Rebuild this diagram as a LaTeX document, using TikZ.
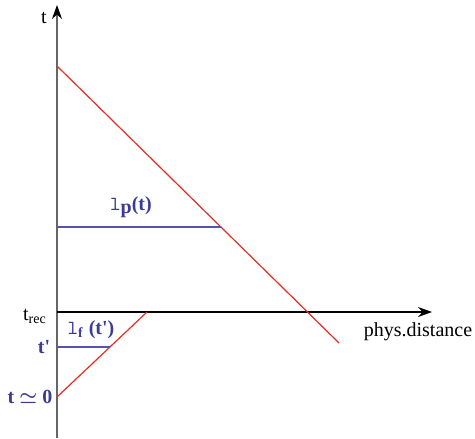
\documentclass[tikz,border=0pt]{standalone}
\usepackage{fontspec}
\setmainfont{Liberation Serif}
\usetikzlibrary{arrows.meta}
\definecolor{labelblue}{RGB}{60,60,150}
\definecolor{lineblue}{RGB}{85,85,175}
\definecolor{linered}{RGB}{225,45,35}
\begin{document}
\begin{tikzpicture}[x=0.5pt, y=-0.5pt,
    axis/.style={thick, -{Stealth[length=7pt,width=5pt,black]}},
    worldline/.style={linered, semithick},
    scale line/.style={lineblue, semithick},
    bluelabel/.style={labelblue, font=\bfseries}]
    \def\xO{57}     % x of the time axis
    \def\yRec{312}  % y of t_rec
    \def\yP{227}    % y of l_p(t)
    \def\yF{347}    % y of t'
    \def\yZero{397} % y of t ~ 0

    % frame
    \useasboundingbox (0,0) rectangle (475,438);

    % axes
    \coordinate (bottom) at (\xO,438);
    \coordinate (top) at (\xO,5);
    \coordinate (o) at (\xO,\yRec);
    \coordinate (xend) at (432,\yRec);
    \draw[axis, black!60] (bottom) -- (top);
    \draw[axis] (o) -- (xend);

    % world lines
    \coordinate (rA) at (\xO,66);
    \coordinate (rB) at (339,343);
    \coordinate (sA) at (\xO,\yZero);
    \coordinate (sB) at (147,\yRec);
    \draw[worldline] (rA) -- (rB);
    \draw[worldline] (sA) -- (sB);

    % physical lengths
    \coordinate (pA) at (\xO,\yP);
    \coordinate (pB) at (221,\yP);
    \coordinate (fA) at (\xO,\yF);
    \coordinate (fB) at (110,\yF);
    \draw[scale line] (pA) -- (pB);
    \draw[scale line] (fA) -- (fB);

    % labels
    \node (tlab) at (44,18) {t};
    \node (trec) at (35,316) {t\textsubscript{rec}};
    \node (xlab) at (418,332) {phys.distance};
    \node[bluelabel] (tprime) at (44,347) {t\textquotesingle};
    \node[bluelabel] (tzero) at (30,397) {t {\boldmath$\simeq$} 0};
    \node[bluelabel] (lp) at (131,207) {{\mdseries\ttfamily l}\raisebox{-1.5pt}{p}(t)};
    \node[bluelabel] (lf) at (91,330) {{\mdseries\ttfamily l}\textsubscript{f} (t\textquotesingle)};
\end{tikzpicture}
\end{document}
